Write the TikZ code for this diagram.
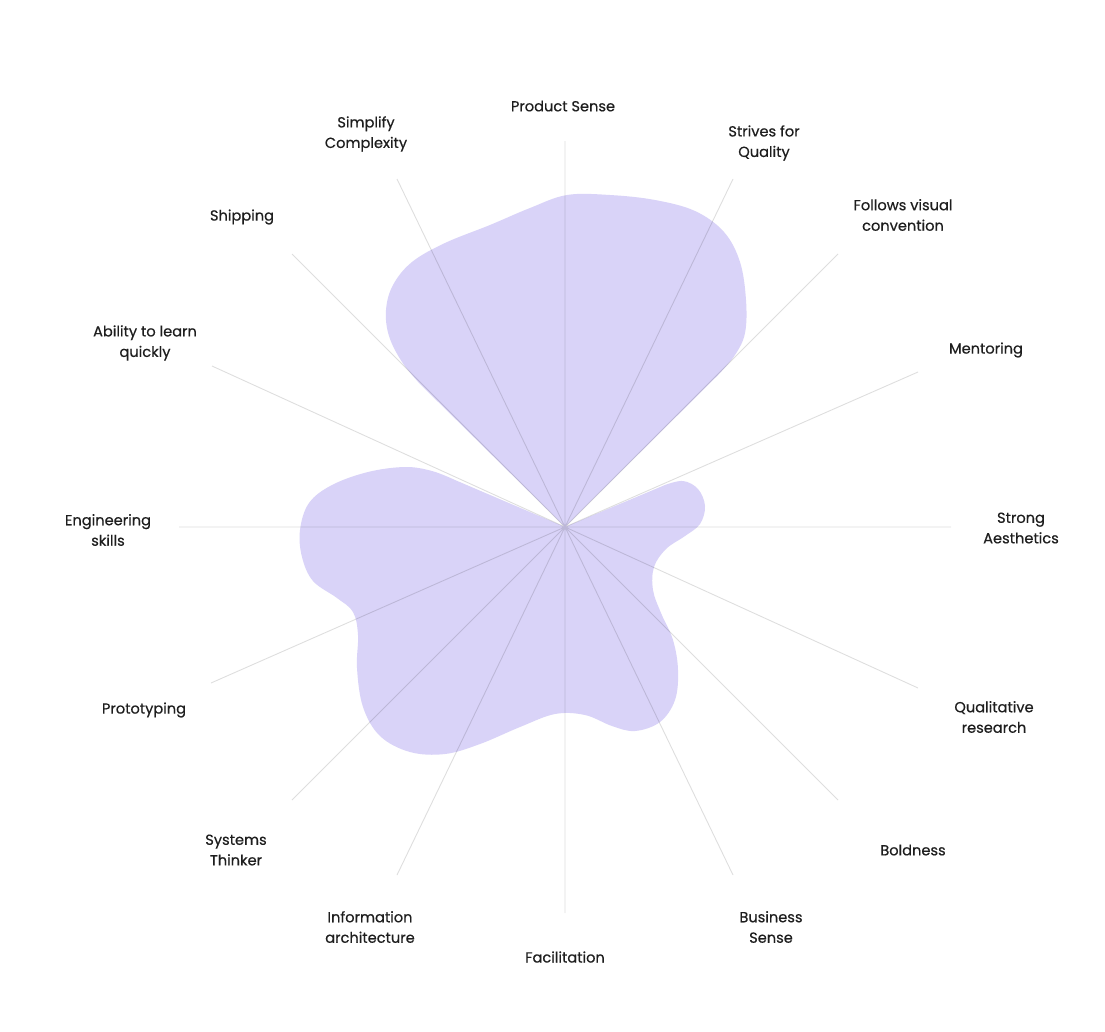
\documentclass[tikz,border=0pt]{standalone}
\usepackage{fontspec}
\setmainfont{Poppins}
\newfontfamily\skillfont{Poppins}[FakeBold=0.45]
\usetikzlibrary{positioning}
\definecolor{blobfill}{RGB}{217,211,248}
\definecolor{labeltext}{RGB}{30,30,30}
\tikzstyle{skill} = [align=center, text=labeltext, inner sep=0pt,
    font=\skillfont\fontsize{14.6}{20.5}\selectfont]
\tikzstyle{spoke} = [line width=0.9pt, black, opacity=0.13]
\tikzstyle{blob} = [fill=blobfill]

\begin{document}
\begin{tikzpicture}[x=1pt,y=-1pt]
\useasboundingbox[fill=white] (0,0) rectangle (1105,1031);

\coordinate (c) at (565,527);

% the filled shape
\fill[blob] (c) -- plot[smooth, tension=0.6] coordinates {(420,384) (402,362) (389,336) (386,310) (393,285) (412,262) (445,243) (490,225) (530,208) (567,195) (610,195) (655,200) (695,211) (724,232) (740,262) (746,300) (745,333) (735,355) (718,375)}
  -- (c) -- plot[smooth, tension=0.6] coordinates {(665,485) (683,481) (698,489) (705,506) (700,524) (685,536) (666,549) (654,567) (653,590) (661,613) (673,640) (678,670) (675,700) (660,722) (635,731) (612,726) (585,715) (555,714) (520,727) (480,744) (445,754) (410,752) (380,736) (363,707) (357,668) (358,635) (353,612) (337,598) (313,581) (302,557) (300,530) (309,503) (332,485) (368,472) (405,467) (432,471) (455,480)}
  -- cycle;

% spoke ends
\coordinate (ps) at (565,141);
\coordinate (sq) at (733,179);
\coordinate (fv) at (838,254);
\coordinate (me) at (918,372);
\coordinate (sa) at (951,527);
\coordinate (qr) at (918,688);
\coordinate (bo) at (838,800);
\coordinate (bs) at (733,875);
\coordinate (fa) at (565,913);
\coordinate (ia) at (397,875);
\coordinate (st) at (292,800);
\coordinate (pr) at (211,683);
\coordinate (es) at (179,527);
\coordinate (al) at (212,366);
\coordinate (sh) at (292,254);
\coordinate (sc) at (397,179);

% one path, so the spokes do not darken where they meet
\draw[spoke] (c) -- (ps) (c) -- (sq) (c) -- (fv) (c) -- (me)
  (c) -- (sa) (c) -- (qr) (c) -- (bo) (c) -- (bs)
  (c) -- (fa) (c) -- (ia) (c) -- (st) (c) -- (pr)
  (c) -- (es) (c) -- (al) (c) -- (sh) (c) -- (sc);

% labels
\node (prodsense) [skill] at (563,106) {Product Sense};
\node (quality) [skill] at (764,143) {Strives for\\Quality};
\node (visual) [skill] at (903,215) {Follows visual\\convention};
\node (mentor) [skill] at (986,350) {Mentoring};
\node (aesth) [skill] at (1021,528) {Strong\\Aesthetics};
\node (qualres) [skill] at (994,717) {Qualitative\\research};
\node (bold) [skill] at (913,850) {Boldness};
\node (business) [skill] at (771,927) {Business\\Sense};
\node (facil) [skill] at (565,957) {Facilitation};
\node (infoarch) [skill] at (370,927) {Information\\architecture};
\node (systems) [skill] at (236,850) {Systems\\Thinker};
\node (proto) [skill] at (144,710) {Prototyping};
\node (engin) [skill] at (108,530) {Engineering\\skills};
\node (learn) [skill] at (145,343) {Ability to learn\\quickly};
\node (ship) [skill] at (242,217) {Shipping};
\node (simplify) [skill] at (366,134) {Simplify\\Complexity};

\end{tikzpicture}
\end{document}
